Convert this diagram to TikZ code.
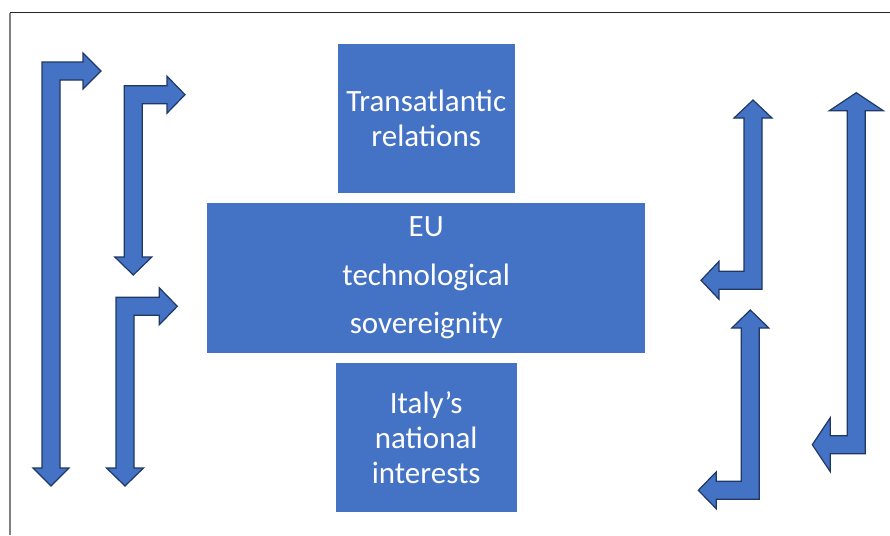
\documentclass[tikz,border=0pt]{standalone}
\usepackage{fontspec}
\setmainfont{Carlito}
\usetikzlibrary{positioning}

\definecolor{boxblue}{HTML}{4472C4}
\definecolor{edgeblue}{HTML}{1F3864}

% L-shaped block arrow: [head half-width]{placement}{reach along x}{reach along y}
\newcommand{\bentarrow}[4][18]{%
  \begin{scope}[#2]
    \filldraw[blockarrow] (0,0) -- ({#3-18},0) -- ({#3-18},{9-#1}) -- (#3,9)
      -- ({#3-18},{9+#1}) -- ({#3-18},18) -- (18,18) -- (18,{#4-18})
      -- ({9+#1},{#4-18}) -- (9,#4) -- ({9-#1},{#4-18}) -- (0,{#4-18}) -- cycle;
  \end{scope}}

\begin{document}
\begin{tikzpicture}[x=1pt, y=-1pt,
    blockarrow/.style={fill=boxblue, draw=edgeblue, line width=1.2pt, line join=miter},
    topic/.style={fill=boxblue, text=white, align=center, inner sep=0pt,
      font=\fontsize{31}{35}\selectfont}]
  \useasboundingbox (0,0) rectangle (890,535);
  \draw[black!85, line width=1pt] (10,13) -- (890,13);
  \draw[black!50, line width=1.5pt] (10,13) -- (10,535);

  \node[topic, minimum width=437.7pt, minimum height=149.4pt,
    font=\fontsize{31}{48.5}\selectfont] (eu) at (426.2,278) {EU\\technological\\sovereignity};
  \node[topic, minimum width=176.6pt, minimum height=149.3pt, above=10pt of eu] (trans) {Transatlantic\\relations};
  \node[topic, minimum width=181pt, minimum height=149.4pt, below=9.6pt of eu] (italy) {Italy’s\\national\\interests};

  % left-hand arrows
  \bentarrow{shift={(42,62)}}{59}{424}
  \bentarrow[18.5]{shift={(124.3,85.7)}}{60.7}{189.3}
  \bentarrow[18.5]{shift={(116,297.3)}}{61.3}{188.7}
  % right-hand arrows, turned half way round
  \bentarrow[19]{shift={(762,289.3)},rotate=180}{61}{189.3}
  \bentarrow[18.5]{shift={(759.3,499.3)},rotate=180}{61}{189.3}
  \bentarrow[27]{shift={(865.3,453.7)},rotate=180}{53}{361}
\end{tikzpicture}
\end{document}
